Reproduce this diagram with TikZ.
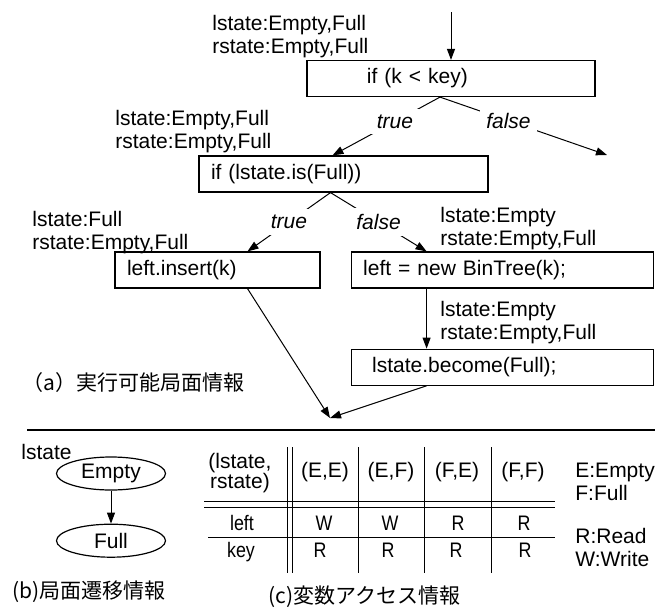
\documentclass[tikz,border=0pt]{standalone}
\usepackage{fontspec}
\setmainfont{Liberation Sans}
\newfontfamily\cjk{Noto Sans CJK JP}
\newfontfamily\narrowsf[FakeStretch=0.85]{Liberation Sans}
\usetikzlibrary{arrows.meta, positioning, shapes.geometric}

\begin{document}
\begin{tikzpicture}[
    x=0.5pt, y=-0.5pt,
    codebox/.style={
        draw, line width=0.6pt, text width=#1, align=left,
        inner xsep=6pt, inner ysep=0pt, minimum height=18pt,
        font=\fontsize{10.5}{11.5}\selectfont
    },
    statelabel/.style={
        anchor=west, align=left, inner sep=0pt,
        font=\fontsize{10.5}{11.5}\selectfont
    },
    branchlabel/.style={
        fill=white, inner sep=3pt,
        font=\itshape\fontsize{10.5}{11.5}\selectfont
    },
    statenode/.style={
        ellipse, draw, line width=0.6pt, minimum width=54.5pt,
        minimum height=16.5pt, inner sep=0pt,
        font=\fontsize{10.5}{11.5}\selectfont
    },
    caption/.style={anchor=west, inner sep=0pt, font=\cjk\fontsize{10.5}{11.5}\selectfont},
    cell/.style={anchor=base, inner sep=0pt, font=\fontsize{10.5}{11.5}\selectfont},
    bodycell/.style={anchor=base, inner sep=0pt, font=\narrowsf\fontsize{10.5}{11.5}\selectfont},
    arrow/.style={-{Triangle[length=5.5pt, width=4pt]}, line width=0.5pt},
    tablerule/.style={line width=0.5pt},
    rule/.style={line width=1.1pt}
]
\useasboundingbox (0,0) rectangle (655,607);

% (a) FLOW OF THE METHOD
\coordinate (entry) at (451,12);
\coordinate (exit) at (607,155);
\coordinate (merge) at (330,418);

\node[codebox=132pt] at (451,78.5) (if1) {\hspace*{24pt}if (k < key)};
\node[codebox=132.5pt] at (343.5,174) (if2) {if (lstate.is(Full))};
\node[codebox=90.5pt] at (217.5,270) (insert) {left.insert(k)};
\node[codebox=139pt, right=15pt of insert] (newtree) {left = new BinTree(k);};
\node[codebox=139pt, below=30pt of newtree] (become) {\hspace*{4.5pt}lstate.become(Full);};

% STATE LABELS
\node[statelabel] at (212,36.5) (st1) {lstate:Empty,Full\\rstate:Empty,Full};
\node[statelabel] at (115,131.5) (st2) {lstate:Empty,Full\\rstate:Empty,Full};
\node[statelabel] at (32,232.5) (st3) {lstate:Full\\rstate:Empty,Full};
\node[statelabel] at (440,228.5) (st4) {lstate:Empty\\rstate:Empty,Full};
\node[statelabel] at (440,322.5) (st5) {lstate:Empty\\rstate:Empty,Full};

% ARROWS
\draw[arrow] (entry) -- (if1.north);
\draw[arrow] ([xshift=-5.5pt]if1.south) -- node[branchlabel, pos=0.42] (t1) {true} ([xshift=-5.5pt]if2.north);
\draw[arrow] ([xshift=-5.5pt]if1.south) -- node[branchlabel, pos=0.41] (f1) {false} (exit);
\draw[arrow] ([xshift=-6.5pt]if2.south) -- node[branchlabel, pos=0.5] (t2) {true} ([xshift=15pt]insert.north);
\draw[arrow] ([xshift=-6.5pt]if2.south) -- node[branchlabel, pos=0.5] (f2) {false} ([xshift=38pt]newtree.north west);
\draw[arrow] ([xshift=38pt]newtree.south west) -- ([xshift=38pt]become.north west);
\draw[arrow] ([xshift=15pt]insert.south) -- (merge);
\draw[arrow] ([xshift=38pt]become.south west) -- (merge);

\node[caption] at (22,383) (capa) {（a）実行可能局面情報};

% SEPARATOR
\draw[rule] (27,430) -- (655,430);

% (b) STATE TRANSITIONS
\node[statelabel] at (21,452) (lstatelbl) {lstate};
\node[statenode] at (111,473.5) (empty) {Empty};
\node[statenode, below=16.5pt of empty] (full) {Full};
\draw[arrow] (empty.south) -- (full.north);
\node[caption] at (12,592) (capb) {(b)局面遷移情報};

% (c) VARIABLE ACCESS TABLE
\draw[tablerule] (204,501) -- (555,501);
\draw[tablerule] (204,507) -- (555,507);
\draw[tablerule] (208,537) -- (555,537);
\draw[tablerule] (287,447) -- (287,573);
\draw[tablerule] (292,447) -- (292,573);
\draw[tablerule] (358,447) -- (358,573);
\draw[tablerule] (424,447) -- (424,573);
\draw[tablerule] (491,447) -- (491,573);

\node[align=center, inner sep=0pt, font=\fontsize{10.5}{10}\selectfont] at (240,473) (hdr) {(lstate,\\rstate)};
\node[cell] at (325,477) (hEE) {(E,E)};
\node[cell] at (391,477) (hEF) {(E,F)};
\node[cell] at (457,477) (hFE) {(F,E)};
\node[cell] at (523,477) (hFF) {(F,F)};

\node[bodycell] at (242,530) (rowleft) {left};
\node[bodycell] at (324,530) (lEE) {W};
\node[bodycell] at (390,530) (lEF) {W};
\node[bodycell] at (458,530) (lFE) {R};
\node[bodycell] at (524,530) (lFF) {R};

\node[bodycell] at (241,557) (rowkey) {key};
\node[bodycell] at (320,557) (kEE) {R};
\node[bodycell] at (388,557) (kEF) {R};
\node[bodycell] at (456,557) (kFE) {R};
\node[bodycell] at (525,557) (kFF) {R};

\node[statelabel] at (575,481.5) (legendef) {E:Empty\\F:Full};
\node[statelabel] at (575,547.5) (legendrw) {R:Read\\W:Write};

\node[caption] at (268,597) (capc) {(c)変数アクセス情報};

\end{tikzpicture}
\end{document}
